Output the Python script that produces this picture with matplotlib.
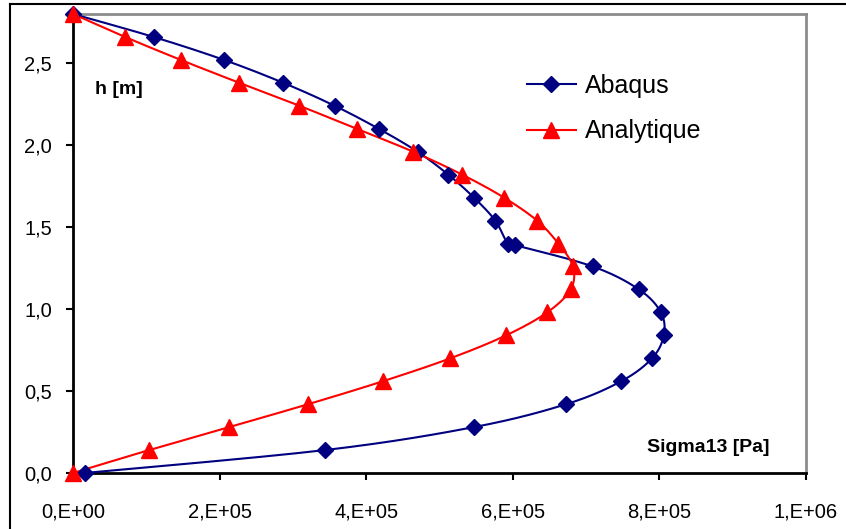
import matplotlib.pyplot as plt
import matplotlib.ticker as mticker
from matplotlib.lines import Line2D
import numpy as np
import math

# heights (m)
h_abaqus = [2.80, 2.66, 2.52, 2.38, 2.24, 2.10, 1.96, 1.82, 1.68, 1.54, 1.40, 1.39,
            1.26, 1.12, 0.98, 0.84, 0.70, 0.56, 0.42, 0.28, 0.14, 0.00]
s_abaqus = [0.0, 1.10e5, 2.06e5, 2.87e5, 3.57e5, 4.17e5, 4.70e5, 5.12e5, 5.47e5, 5.76e5,
            5.93e5, 6.03e5, 7.09e5, 7.72e5, 8.02e5, 8.06e5, 7.90e5, 7.48e5, 6.73e5,
            5.47e5, 3.44e5, 1.6e4]

h_analytique = [2.80, 2.66, 2.52, 2.38, 2.24, 2.10, 1.96, 1.82, 1.68, 1.54, 1.40,
                1.26, 1.12, 0.98, 0.84, 0.70, 0.56, 0.42, 0.28, 0.14, 0.00]
s_analytique = [0.0, 0.71e5, 1.47e5, 2.27e5, 3.09e5, 3.87e5, 4.64e5, 5.31e5, 5.88e5,
                6.33e5, 6.62e5, 6.82e5, 6.79e5, 6.47e5, 5.91e5, 5.15e5, 4.23e5,
                3.21e5, 2.13e5, 1.04e5, 0.0]

x_ticks = [0, 2e5, 4e5, 6e5, 8e5, 1e6]
y_ticks = [0, 0.5, 1.0, 1.5, 2.0, 2.5]


def smooth(x, y, n=16):
    # excel-like smoothed line (catmull-rom / bezier)
    x = np.asarray(x, float)
    y = np.asarray(y, float)
    px = np.concatenate([[x[0]], x, [x[-1]]])
    py = np.concatenate([[y[0]], y, [y[-1]]])
    t = np.linspace(0, 1, n)
    xs, ys = [], []
    for i in range(1, len(px) - 2):
        c1x = px[i] + (px[i + 1] - px[i - 1]) / 6
        c1y = py[i] + (py[i + 1] - py[i - 1]) / 6
        c2x = px[i + 1] - (px[i + 2] - px[i]) / 6
        c2y = py[i + 1] - (py[i + 2] - py[i]) / 6
        b = [(1 - t) ** 3, 3 * (1 - t) ** 2 * t, 3 * (1 - t) * t ** 2, t ** 3]
        xs.append(b[0] * px[i] + b[1] * c1x + b[2] * c2x + b[3] * px[i + 1])
        ys.append(b[0] * py[i] + b[1] * c1y + b[2] * c2y + b[3] * py[i + 1])
    return np.concatenate(xs), np.concatenate(ys)


plt.rcParams['font.family'] = ['Liberation Sans', 'DejaVu Sans']

W, H = 846, 529
fig = plt.figure(figsize=(W / 100, H / 100), dpi=100)
ax = fig.add_axes([73 / W, (H - 473) / H, (806 - 73) / W, (473 - 14) / H])

blue = '#000080'
red = '#FF0000'

sx, sy = smooth(s_abaqus, h_abaqus)
ax.plot(sx, sy, color=blue, lw=1.5, clip_on=False, zorder=3)
ax.plot(s_abaqus, h_abaqus, ls='none', marker='D', ms=7.8, color=blue, clip_on=False, zorder=4)

sx, sy = smooth(s_analytique, h_analytique)
ax.plot(sx, sy, color=red, lw=1.5, clip_on=False, zorder=3)
ax.plot(s_analytique, h_analytique, ls='none', marker='^', ms=11, color=red, clip_on=False, zorder=5)

ax.set_xlim(0, 1e6)
ax.set_ylim(0, 2.8)
ax.set_xticks(x_ticks)
ax.set_yticks(y_ticks)


def fmt_x(v, pos):
    if v == 0:
        return '0,E+00'
    e = int(math.floor(math.log10(v) + 1e-9))
    return '%d,E+%02d' % (round(v / 10 ** e), e)


ax.xaxis.set_major_formatter(mticker.FuncFormatter(fmt_x))
ax.yaxis.set_major_formatter(mticker.FuncFormatter(lambda v, p: ('%.1f' % v).replace('.', ',')))
ax.tick_params(axis='both', direction='out', length=5, width=1.5, labelsize=14.5, color='black')
ax.tick_params(axis='y', pad=10)
ax.tick_params(axis='x', pad=16)

for s in ['left', 'bottom']:
    ax.spines[s].set_linewidth(2)
    ax.spines[s].set_color('black')
for s in ['top', 'right']:
    ax.spines[s].set_linewidth(2)
    ax.spines[s].set_color('#8c8c8c')

# legend
handles = [Line2D([], [], color=blue, lw=1.5, marker='D', ms=7.8),
           Line2D([], [], color=red, lw=1.5, marker='^', ms=11)]
fig.legend(handles, ['Abaqus', 'Analytique'], loc='upper left',
           bbox_to_anchor=(527 / W, 1 - 74 / H), frameon=False, fontsize=18,
           handlelength=1.95, handletextpad=0.35, labelspacing=0.85, borderpad=0,
           borderaxespad=0)

fig.text(95 / W, 1 - 90 / H, 'h [m]', fontsize=14, fontweight='bold', va='center', ha='left')
fig.text(647 / W, 1 - 448 / H, 'Sigma13 [Pa]', fontsize=14, fontweight='bold', va='center', ha='left')

# outer chart border (cropped)
fig.add_artist(Line2D([10 / W, 1], [1 - 4 / H, 1 - 4 / H], color='black', lw=1.5))
fig.add_artist(Line2D([10 / W, 10 / W], [0, 1 - 4 / H], color='black', lw=1.5))

fig.savefig('out.png', dpi=100)
